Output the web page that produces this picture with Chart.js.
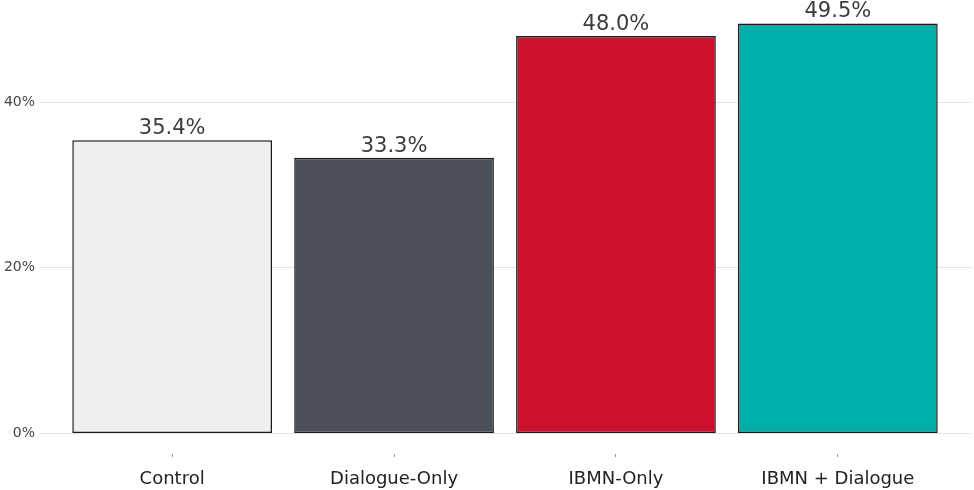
<!DOCTYPE html>
<html>
<head>
<meta charset="utf-8">
<script src="https://cdn.jsdelivr.net/npm/chart.js@4/dist/chart.umd.min.js"></script>
<style>
  html, body { margin: 0; padding: 0; background: #fff; }
  #wrap { width: 974px; height: 490px; }
</style>
</head>
<body>
<div id="wrap"><canvas id="chart" width="974" height="490"></canvas></div>
<script>
const groups = ["Control", "Dialogue-Only", "IBMN-Only", "IBMN + Dialogue"];
const shares = [35.4, 33.3, 48.0, 49.5];
const fills = ["#efefef", "#4c5059", "#cc102d", "#00aea9"];
const yTicks = [0, 20, 40];

const FONT = "'DejaVu Sans', sans-serif";

// value text above each bar
const barLabels = {
  id: "barLabels",
  afterDatasetsDraw(chart) {
    const { ctx } = chart;
    const meta = chart.getDatasetMeta(0);
    ctx.save();
    ctx.font = "21px " + FONT;
    ctx.fillStyle = "#3c3c3c";
    ctx.textAlign = "center";
    ctx.textBaseline = "bottom";
    meta.data.forEach((bar, i) => {
      ctx.fillText(shares[i].toFixed(1) + "%", bar.x, bar.y - 1);
    });
    ctx.restore();
  }
};

new Chart(document.getElementById("chart"), {
  type: "bar",
  data: {
    datasets: [{
      data: shares.map((v, i) => ({ x: i, y: v })),
      backgroundColor: fills,
      borderColor: "#1a1a1a",
      borderWidth: 1.5,
      borderSkipped: false,
      barPercentage: 0.9,
      categoryPercentage: 1
    }]
  },
  options: {
    responsive: false,
    animation: false,
    layout: { padding: { top: 3, right: 3, left: 0, bottom: 0 } },
    plugins: { legend: { display: false }, tooltip: { enabled: false } },
    scales: {
      x: {
        type: "linear",
        offset: false,
        min: -0.6,
        max: 3.6,
        afterBuildTicks: (s) => { s.ticks = groups.map((_, i) => ({ value: i })); },
        afterFit: (s) => { s.height = 36; s.paddingLeft = 0; s.paddingRight = 0; },
        grid: { offset: false, drawOnChartArea: false, drawTicks: true, tickLength: 3, color: "#999" },
        border: { display: false },
        ticks: {
          callback: (v) => groups[v],
          color: "#222",
          padding: 12,
          maxRotation: 0,
          font: { family: FONT, size: 18 }
        }
      },
      y: {
        min: -2.475,
        max: 51.975,
        afterBuildTicks: (s) => { s.ticks = yTicks.map(v => ({ value: v })); },
        afterFit: (s) => { s.width = 39; s.paddingTop = 0; s.paddingBottom = 0; },
        grid: { color: "#e3e3e3", lineWidth: 1, drawTicks: false },
        border: { display: false },
        ticks: {
          callback: (v) => v + "%",
          color: "#444",
          padding: 4,
          font: { family: FONT, size: 14 }
        }
      }
    }
  },
  plugins: [barLabels]
});
</script>
</body>
</html>
